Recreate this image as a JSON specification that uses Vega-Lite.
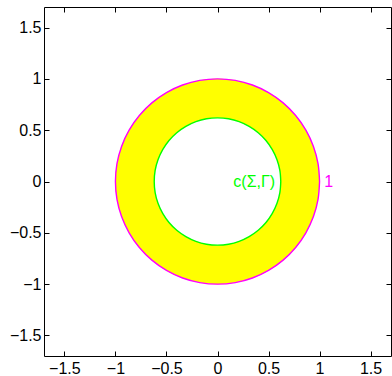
{
  "$schema": "https://vega.github.io/schema/vega-lite/v6.json",
  "width": 347,
  "height": 349,
  "autosize": {"type": "none"},
  "padding": {"left": 44, "top": 7, "right": 1, "bottom": 20},
  "background": "white",
  "config": {
    "view": {"stroke": "black", "strokeWidth": 1},
    "axis": {
      "grid": false,
      "domain": false,
      "ticks": true,
      "tickColor": "black",
      "tickSize": -5,
      "tickWidth": 1,
      "labelFont": "Liberation Sans",
      "labelFontSize": 16,
      "labelColor": "black",
      "title": null,
      "values": [-1.5, -1, -0.5, 0, 0.5, 1, 1.5],
      "format": "~g",
      "labelFlush": false,
      "labelOverlap": false
    }
  },
  "datasets": {
    "outer": [
      {"k": 0, "x": 1, "y": 0}, {"k": 1, "x": 0.985, "y": 0.174}, {"k": 2, "x": 0.94, "y": 0.342},
      {"k": 3, "x": 0.866, "y": 0.5}, {"k": 4, "x": 0.766, "y": 0.643}, {"k": 5, "x": 0.643, "y": 0.766},
      {"k": 6, "x": 0.5, "y": 0.866}, {"k": 7, "x": 0.342, "y": 0.94}, {"k": 8, "x": 0.174, "y": 0.985},
      {"k": 9, "x": 0, "y": 1}, {"k": 10, "x": -0.174, "y": 0.985}, {"k": 11, "x": -0.342, "y": 0.94},
      {"k": 12, "x": -0.5, "y": 0.866}, {"k": 13, "x": -0.643, "y": 0.766}, {"k": 14, "x": -0.766, "y": 0.643},
      {"k": 15, "x": -0.866, "y": 0.5}, {"k": 16, "x": -0.94, "y": 0.342}, {"k": 17, "x": -0.985, "y": 0.174},
      {"k": 18, "x": -1, "y": 0}, {"k": 19, "x": -0.985, "y": -0.174}, {"k": 20, "x": -0.94, "y": -0.342},
      {"k": 21, "x": -0.866, "y": -0.5}, {"k": 22, "x": -0.766, "y": -0.643}, {"k": 23, "x": -0.643, "y": -0.766},
      {"k": 24, "x": -0.5, "y": -0.866}, {"k": 25, "x": -0.342, "y": -0.94}, {"k": 26, "x": -0.174, "y": -0.985},
      {"k": 27, "x": 0, "y": -1}, {"k": 28, "x": 0.174, "y": -0.985}, {"k": 29, "x": 0.342, "y": -0.94},
      {"k": 30, "x": 0.5, "y": -0.866}, {"k": 31, "x": 0.643, "y": -0.766}, {"k": 32, "x": 0.766, "y": -0.643},
      {"k": 33, "x": 0.866, "y": -0.5}, {"k": 34, "x": 0.94, "y": -0.342}, {"k": 35, "x": 0.985, "y": -0.174},
      {"k": 36, "x": 1, "y": 0}
    ],
    "inner": [
      {"k": 0, "x": 0.62, "y": 0}, {"k": 1, "x": 0.611, "y": 0.108}, {"k": 2, "x": 0.583, "y": 0.212},
      {"k": 3, "x": 0.537, "y": 0.31}, {"k": 4, "x": 0.475, "y": 0.399}, {"k": 5, "x": 0.399, "y": 0.475},
      {"k": 6, "x": 0.31, "y": 0.537}, {"k": 7, "x": 0.212, "y": 0.583}, {"k": 8, "x": 0.108, "y": 0.611},
      {"k": 9, "x": 0, "y": 0.62}, {"k": 10, "x": -0.108, "y": 0.611}, {"k": 11, "x": -0.212, "y": 0.583},
      {"k": 12, "x": -0.31, "y": 0.537}, {"k": 13, "x": -0.399, "y": 0.475}, {"k": 14, "x": -0.475, "y": 0.399},
      {"k": 15, "x": -0.537, "y": 0.31}, {"k": 16, "x": -0.583, "y": 0.212}, {"k": 17, "x": -0.611, "y": 0.108},
      {"k": 18, "x": -0.62, "y": 0}, {"k": 19, "x": -0.611, "y": -0.108}, {"k": 20, "x": -0.583, "y": -0.212},
      {"k": 21, "x": -0.537, "y": -0.31}, {"k": 22, "x": -0.475, "y": -0.399}, {"k": 23, "x": -0.399, "y": -0.475},
      {"k": 24, "x": -0.31, "y": -0.537}, {"k": 25, "x": -0.212, "y": -0.583}, {"k": 26, "x": -0.108, "y": -0.611},
      {"k": 27, "x": 0, "y": -0.62}, {"k": 28, "x": 0.108, "y": -0.611}, {"k": 29, "x": 0.212, "y": -0.583},
      {"k": 30, "x": 0.31, "y": -0.537}, {"k": 31, "x": 0.399, "y": -0.475}, {"k": 32, "x": 0.475, "y": -0.399},
      {"k": 33, "x": 0.537, "y": -0.31}, {"k": 34, "x": 0.583, "y": -0.212}, {"k": 35, "x": 0.611, "y": -0.108},
      {"k": 36, "x": 0.62, "y": 0}
    ],
    "labels": [
      {"t": "c(Σ,Γ)", "x": 0.36, "y": 0},
      {"t": "1", "x": 1.09, "y": 0}
    ]
  },
  "resolve": {"axis": {"x": "independent", "y": "independent"}},
  "layer": [
    {
      "data": {"name": "outer"},
      "mark": {"type": "line", "interpolate": "cardinal", "fill": "#ffff00", "stroke": "#ff00ff", "strokeWidth": 1.4, "clip": true},
      "encoding": {
        "x": {"field": "x", "type": "quantitative", "scale": {"domain": [-1.7, 1.7], "nice": false, "zero": false},
              "axis": {"orient": "bottom", "labelPadding": 9}},
        "y": {"field": "y", "type": "quantitative", "scale": {"domain": [-1.7, 1.7], "nice": false, "zero": false},
              "axis": {"orient": "left", "labelPadding": 8}},
        "order": {"field": "k", "type": "quantitative"}
      }
    },
    {
      "data": {"name": "inner"},
      "mark": {"type": "line", "interpolate": "cardinal", "fill": "white", "stroke": "#00ff00", "strokeWidth": 1.4, "clip": true},
      "encoding": {
        "x": {"field": "x", "type": "quantitative", "axis": {"orient": "top", "labels": false}},
        "y": {"field": "y", "type": "quantitative", "axis": {"orient": "right", "labels": false}},
        "order": {"field": "k", "type": "quantitative"}
      }
    },
    {
      "data": {"name": "labels"},
      "transform": [{"filter": "datum.t != '1'"}],
      "mark": {"type": "text", "color": "#00ff00", "font": "Liberation Sans", "fontSize": 16, "align": "center", "baseline": "middle"},
      "encoding": {
        "x": {"field": "x", "type": "quantitative", "axis": null},
        "y": {"field": "y", "type": "quantitative", "axis": null},
        "text": {"field": "t"}
      }
    },
    {
      "data": {"name": "labels"},
      "transform": [{"filter": "datum.t == '1'"}],
      "mark": {"type": "text", "color": "#ff00ff", "font": "Liberation Sans", "fontSize": 16, "align": "center", "baseline": "middle"},
      "encoding": {
        "x": {"field": "x", "type": "quantitative", "axis": null},
        "y": {"field": "y", "type": "quantitative", "axis": null},
        "text": {"field": "t"}
      }
    }
  ]
}
